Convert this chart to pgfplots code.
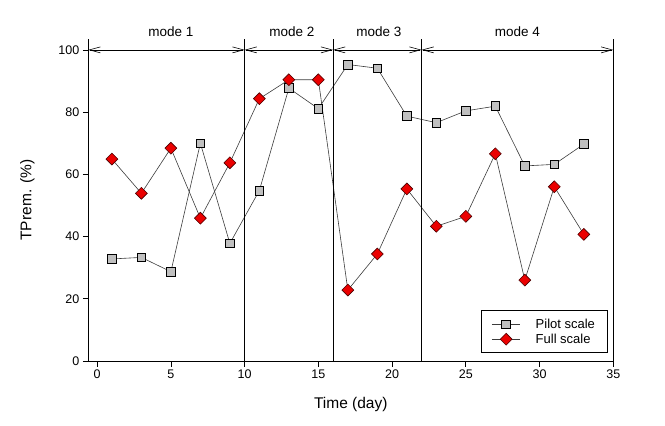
\documentclass[border=0pt]{standalone}
\usepackage{fontspec}
\setmainfont{Liberation Sans}
\usepackage{pgfplots}
\pgfplotsset{compat=1.18}
\usetikzlibrary{arrows.meta}
\definecolor{pilotgray}{RGB}{192,192,192}
\definecolor{fullred}{RGB}{235,0,0}
\definecolor{lineg}{RGB}{60,60,60}

\begin{document}
\begin{tikzpicture}
\begin{axis}[
 scale only axis, width=525pt, height=321.7pt,
 xmin=-0.6, xmax=35, ymin=0, ymax=103.4,
 axis x line*=bottom, axis y line*=left,
 axis line style={-, line width=0.7pt},
 xtick={0,5,...,35}, ytick={0,20,...,100},
 tick align=outside, major tick length=5.5pt,
 tick style={black, line width=0.7pt},
 /pgf/number format/assume math mode=true,
 tick label style={font=\fontsize{12.5}{14}\selectfont},
 xlabel={Time (day)}, ylabel={TPrem. (\%)},
 every axis x label/.style={at={(axis description cs:0.5,0)}, anchor=center, yshift=-43pt, font=\fontsize{15.5}{18}\selectfont},
 every axis y label/.style={at={(axis description cs:0,0.5)}, xshift=-61pt, rotate=90, anchor=center, font=\fontsize{15.5}{18}\selectfont},
 clip=false,
 legend style={at={(axis cs:35,0)}, anchor=south east, xshift=-6pt, yshift=8pt,
   draw=black, line width=0.7pt, font=\fontsize{13}{15}\selectfont,
   inner xsep=10pt, inner ysep=6pt, row sep=0pt,
   /tikz/every odd column/.append style={column sep=13pt}},
 legend cell align=left,
 legend image code/.code={\draw[mark repeat=2,mark phase=2] plot coordinates {(0cm,0cm)(0.5cm,0cm)(1.0cm,0cm)};},
]
\coordinate (O) at (rel axis cs:0,0);
\addplot[color=lineg, line width=0.6pt, mark=square*, mark size=4.4pt,
  mark options={fill=pilotgray, draw=black, line width=0.6pt}] coordinates {
 (1,32.8) (3,33.3) (5,28.7) (7,70.0) (9,37.8) (11,54.8) (13,87.7) (15,81.1)
 (17,95.3) (19,94.1) (21,78.7) (23,76.6) (25,80.4) (27,81.9) (29,62.7) (31,63.2) (33,69.7)};
\addlegendentry{Pilot scale\hspace{9pt}}
\addplot[color=lineg, line width=0.6pt, mark=square*, mark size=4.2pt,
  mark options={rotate=45, fill=fullred, draw=black!70!red, line width=0.6pt}] coordinates {
 (1,64.9) (3,53.9) (5,68.4) (7,45.9) (9,63.7) (11,84.3) (13,90.4) (15,90.4)
 (17,22.8) (19,34.4) (21,55.3) (23,43.3) (25,46.5) (27,66.6) (29,26.0) (31,56.0) (33,40.7)};
\addlegendentry{Full scale\hspace{9pt}}
\draw[black, line width=0.7pt] (axis cs:10,0) -- (axis cs:10,103.4);
\draw[black, line width=0.7pt] (axis cs:16,0) -- (axis cs:16,103.4);
\draw[black, line width=0.7pt] (axis cs:22,0) -- (axis cs:22,103.4);
\draw[black, line width=0.7pt] (axis cs:35,0) -- (axis cs:35,103.4);
\draw[black, line width=0.6pt, {Straight Barb[length=11pt,width=6pt]}-{Straight Barb[length=11pt,width=6pt]}] (axis cs:-0.6,100) -- (axis cs:10,100);
\draw[black, line width=0.6pt, {Straight Barb[length=11pt,width=6pt]}-{Straight Barb[length=11pt,width=6pt]}] (axis cs:10,100) -- (axis cs:16,100);
\draw[black, line width=0.6pt, {Straight Barb[length=11pt,width=6pt]}-{Straight Barb[length=11pt,width=6pt]}] (axis cs:16,100) -- (axis cs:22,100);
\draw[black, line width=0.6pt, {Straight Barb[length=11pt,width=6pt]}-{Straight Barb[length=11pt,width=6pt]}] (axis cs:22,100) -- (axis cs:35,100);
\node[font=\fontsize{13.5}{15}\selectfont] at (axis cs:5,105.9) {mode 1};
\node[font=\fontsize{13.5}{15}\selectfont] at (axis cs:13.2,105.9) {mode 2};
\node[font=\fontsize{13.5}{15}\selectfont] at (axis cs:19.1,105.9) {mode 3};
\node[font=\fontsize{13.5}{15}\selectfont] at (axis cs:28.5,105.9) {mode 4};
\end{axis}
\path (O) ++(-88.3pt,-65pt) rectangle ++(665pt,426pt);
\end{tikzpicture}
\end{document}
